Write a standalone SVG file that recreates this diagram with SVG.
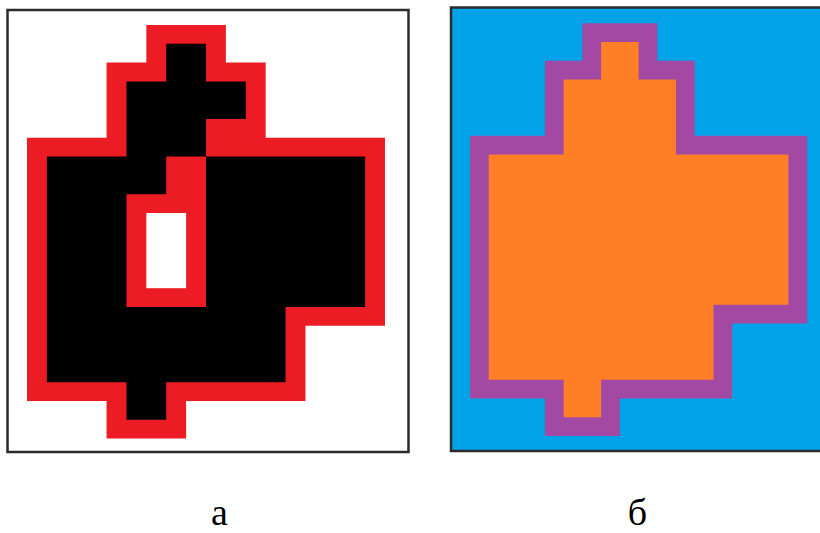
<svg xmlns="http://www.w3.org/2000/svg" width="820" height="533" viewBox="0 0 820 533">
<style>
.frame{stroke:#2b2b2b;stroke-width:2.5}
.lbl{font-family:"Liberation Serif","DejaVu Serif",serif;font-size:38px;fill:#000;text-anchor:middle}
</style>
<defs>
<polygon id="outer" points="6,0 10,0 10,2 12,2 12,6 18,6 18,16 14,16 14,20 8,20 8,22 4,22 4,20 0,20 0,6 4,6 4,2 6,2"/>
</defs>
<rect width="820" height="533" fill="#fff"/>
<g id="panel-a">
<rect class="frame" x="7.5" y="10" width="401" height="442" fill="#fff"/>
<g transform="translate(27,25) scale(19.89,18.8)">
<use href="#outer" fill="#ed1c24"/>
<polygon fill="#000" points="7,1 9,1 9,3 11,3 11,5 9,5 9,7 17,7 17,15 13,15 13,19 7,19 7,21 5,21 5,19 1,19 1,7 5,7 5,3 7,3"/>
<polygon fill="#ed1c24" points="7,7 9,7 9,15 5,15 5,9 7,9"/>
<rect x="6" y="10" width="2" height="4" fill="#fff"/>
</g>
</g>
<g id="panel-b">
<rect class="frame" x="451" y="7.5" width="380" height="443.5" fill="#00a2e8"/>
<g transform="translate(470,23.3) scale(18.73,18.76)">
<use href="#outer" fill="#a349a4"/>
<polygon fill="#ff7f27" points="7,1 9,1 9,3 11,3 11,7 17,7 17,15 13,15 13,19 7,19 7,21 5,21 5,19 1,19 1,7 5,7 5,3 7,3"/>
</g>
</g>
<text class="lbl" x="219.5" y="525">а</text>
<text class="lbl" x="637.5" y="525">б</text>
</svg>
